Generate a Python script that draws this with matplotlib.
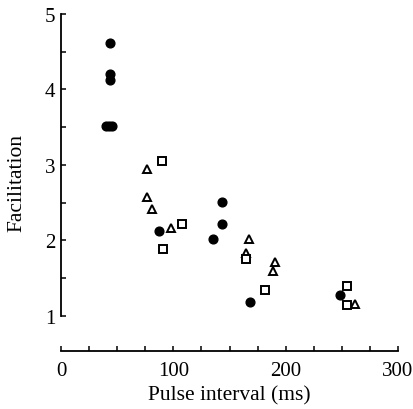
import matplotlib.pyplot as plt
from matplotlib.ticker import MultipleLocator

# filled circles
circ_x = [44, 44, 44, 40, 42.5, 45, 87.5, 143, 143, 135.5, 168.5, 248]
circ_y = [4.62, 4.20, 4.13, 3.51, 3.51, 3.51, 2.13, 2.51, 2.22, 2.02, 1.19, 1.28]

# open triangles
tri_x = [76.5, 76.5, 81, 97.5, 167.5, 165, 190.5, 188.5, 261.5]
tri_y = [2.95, 2.57, 2.42, 2.17, 2.02, 1.83, 1.71, 1.60, 1.16]

# open squares
sq_x = [90, 107.5, 91, 165, 181.5, 254.5, 255]
sq_y = [3.05, 2.22, 1.89, 1.75, 1.35, 1.40, 1.15]

plt.rcParams['font.family'] = 'Liberation Serif'

fig = plt.figure(figsize=(4.14, 4.10), dpi=100)
ax = fig.add_axes([61 / 414, 58 / 410, 337 / 414, 337 / 410])

ax.plot(circ_x, circ_y, 'o', color='black', ms=6.3, linestyle='none')
ax.plot(tri_x, tri_y, '^', mfc='white', mec='black', mew=1.4, ms=5.8, linestyle='none')
ax.plot(sq_x, sq_y, 's', mfc='white', mec='black', mew=1.4, ms=5.6, linestyle='none')

ax.set_xlim(0, 300)
ax.set_ylim(0.536, 5.0)

ax.spines['top'].set_visible(False)
ax.spines['right'].set_visible(False)
ax.spines['left'].set_bounds(1, 5)
ax.spines['bottom'].set_bounds(0, 300)
ax.spines['left'].set_linewidth(1.3)
ax.spines['bottom'].set_linewidth(1.3)

ax.xaxis.set_major_locator(MultipleLocator(100))
ax.xaxis.set_minor_locator(MultipleLocator(25))
ax.yaxis.set_minor_locator(MultipleLocator(0.5))
ax.set_yticks([1, 2, 3, 4, 5])

ax.tick_params(which='both', direction='in', length=3.5, width=1.1, labelsize=15)
ax.tick_params(axis='y', pad=4)
ax.tick_params(axis='x', pad=7)

ax.set_xlabel('Pulse interval (ms)', fontsize=15.5, labelpad=4)
ax.set_ylabel('Facilitation', fontsize=15.5, labelpad=13)

plt.savefig('out.png', dpi=100)
